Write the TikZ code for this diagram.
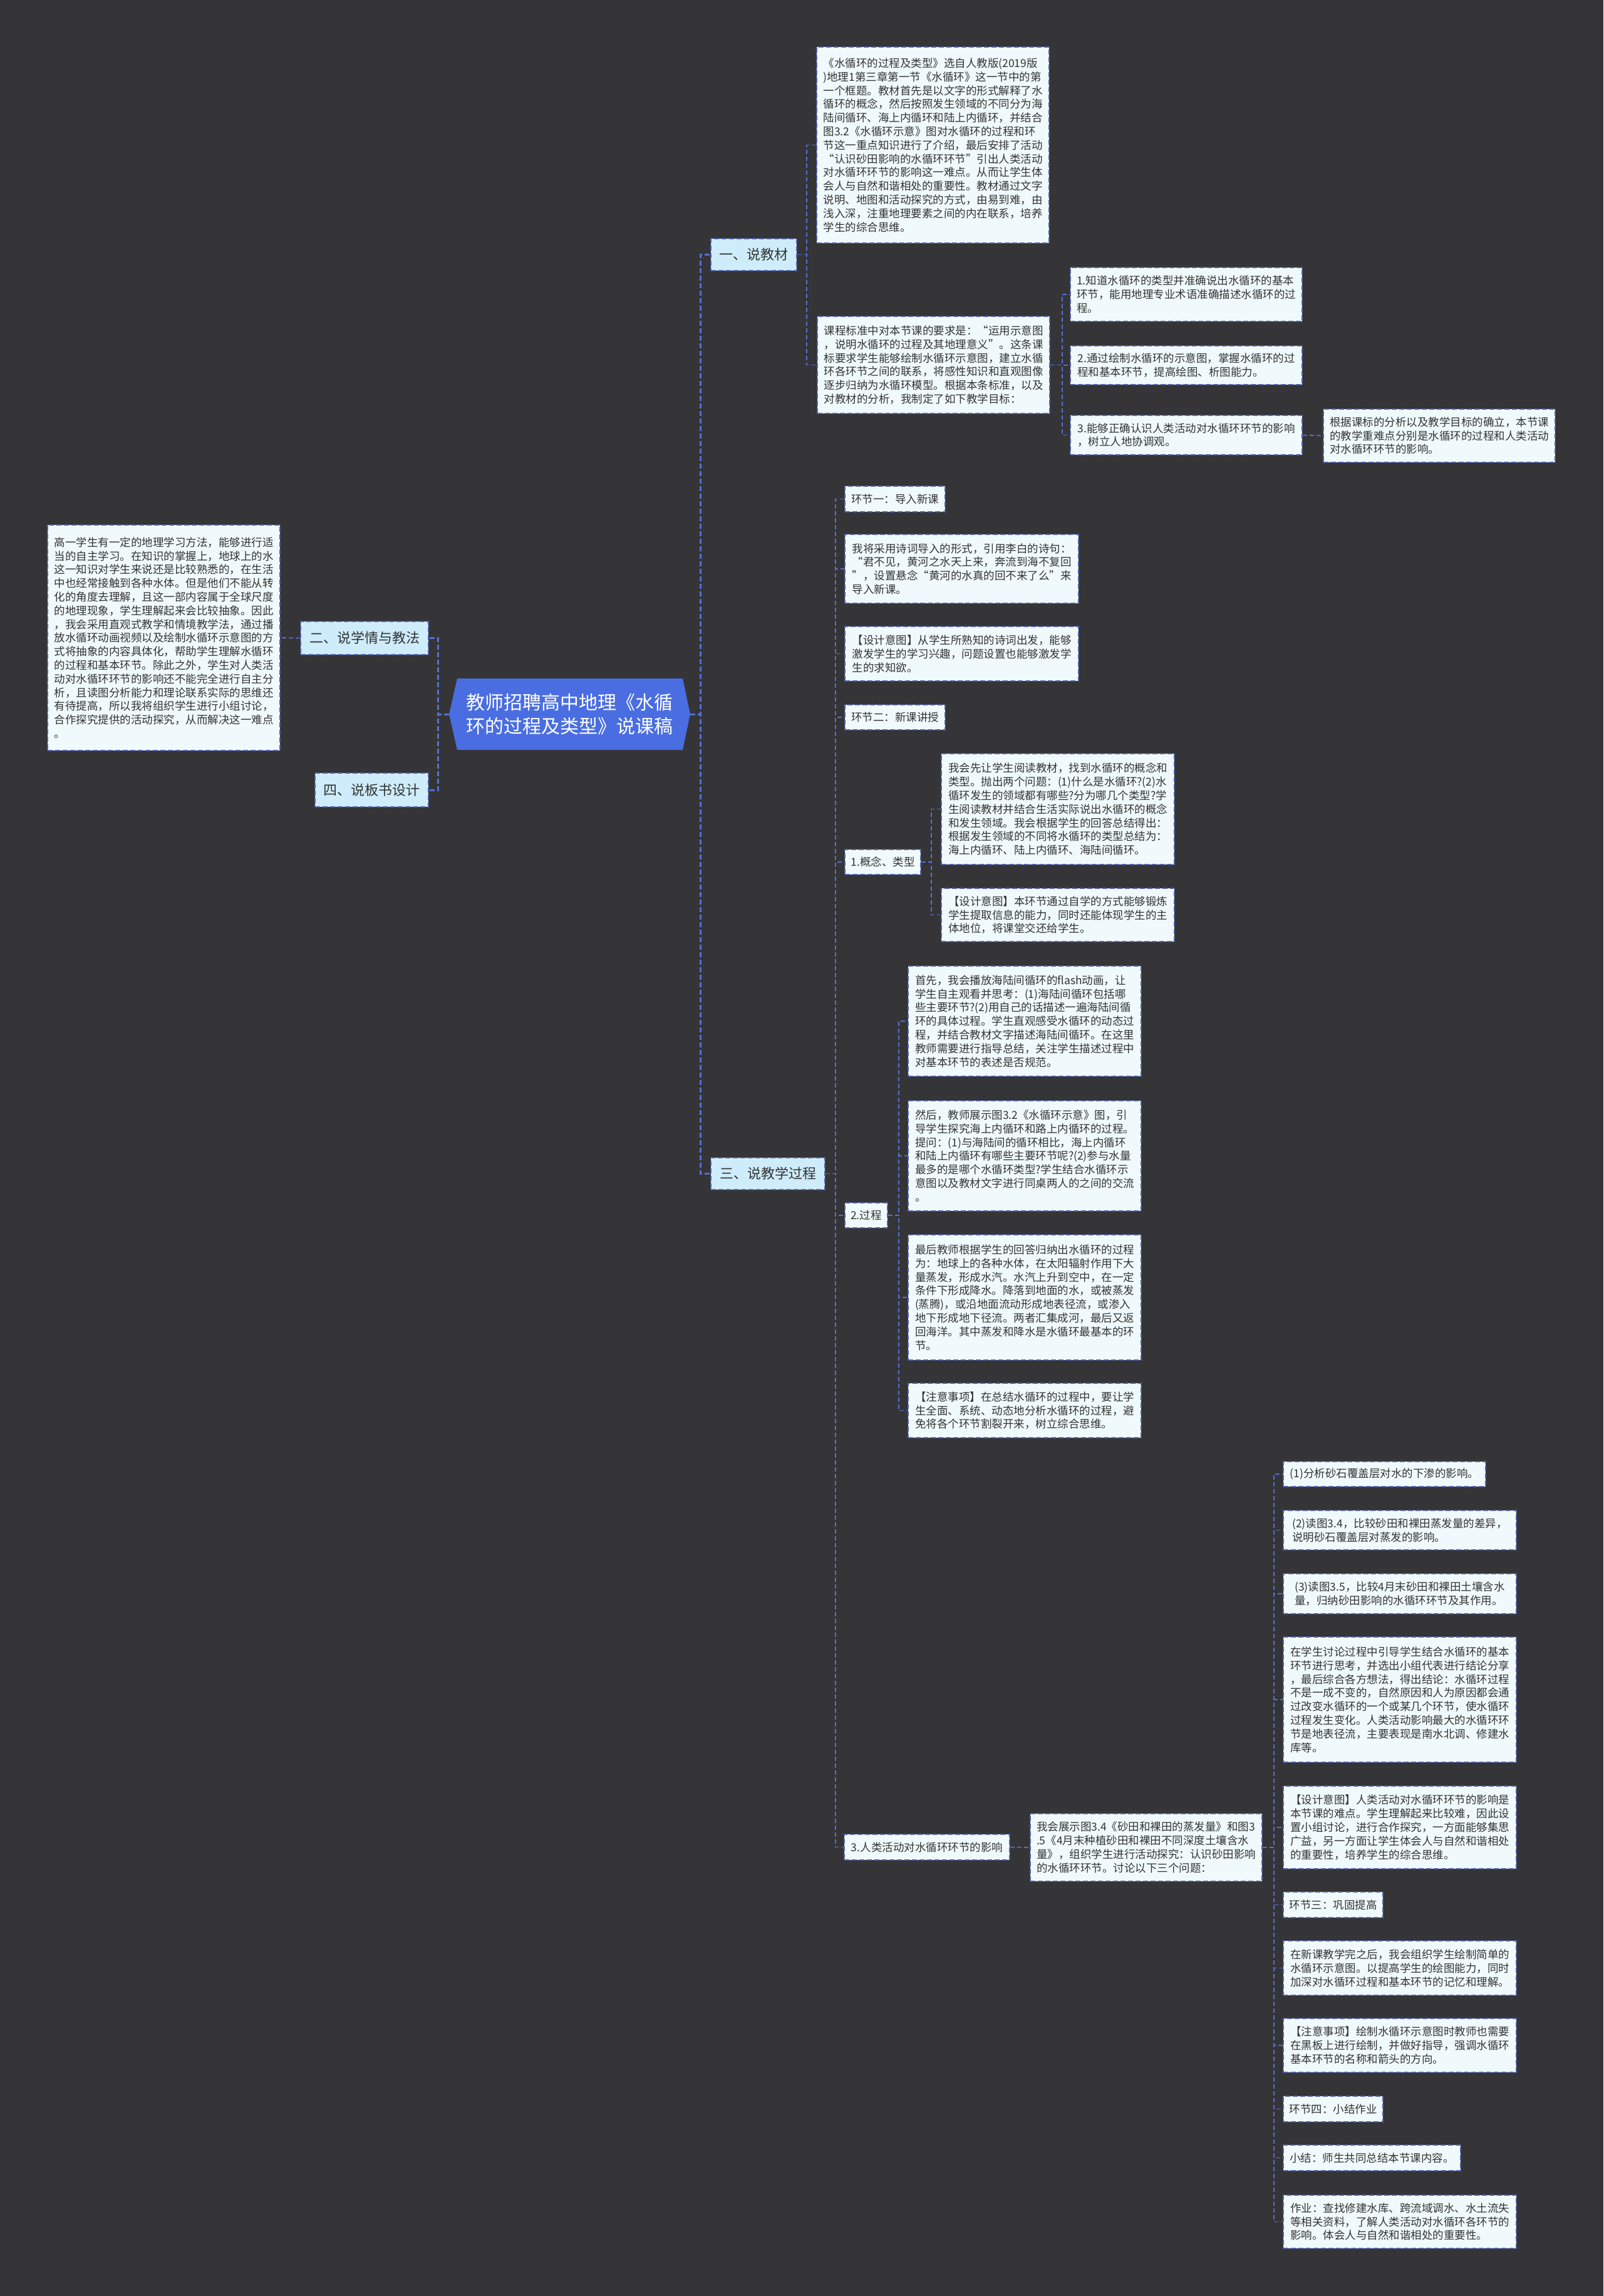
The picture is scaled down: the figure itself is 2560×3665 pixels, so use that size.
\documentclass[tikz,border=0pt]{standalone}
\usepackage{fontspec}
\setmainfont{Noto Sans CJK SC}
\usetikzlibrary{positioning}
\definecolor{bgdark}{RGB}{53,52,55}
\definecolor{titleblue}{RGB}{74,110,225}
\definecolor{lvlfill}{RGB}{206,236,250}
\definecolor{leaffill}{RGB}{240,250,252}
\definecolor{edgeblue}{RGB}{84,112,210}
\definecolor{boxline}{RGB}{82,98,170}
\definecolor{inktext}{RGB}{51,51,51}

\begin{document}
\begin{tikzpicture}[x=1pt, y=-1pt,
    topic/.style={rectangle, text=white, align=center, inner sep=0pt, font=\fontsize{30}{38}\selectfont},
    branch/.style={rectangle, draw=boxline, line width=1.8pt, dash pattern=on 8pt off 4pt, fill=lvlfill, text=inktext, inner sep=0pt, font=\fontsize{22}{26}\selectfont},
    leaf/.style={rectangle, draw=boxline, line width=1.8pt, dash pattern=on 8pt off 4pt, fill=leaffill, text=inktext, align=left, inner sep=0pt, font=\fontsize{17.5}{21.8}\selectfont},
    trunk/.style={draw=edgeblue, line width=3pt, dash pattern=on 8pt off 4pt},
    link/.style={draw=edgeblue, line width=1.8pt, dash pattern=on 7pt off 4pt}]

\useasboundingbox (0,0) rectangle (2560,3665);
\fill[bgdark] (0,0) rectangle (2560,3665);

% centre
\fill[titleblue] (717,1140) -- (730,1083) -- (1090,1083) -- (1102,1140) -- (1090,1197) -- (730,1197) -- cycle;
\node[topic, minimum width=385pt, minimum height=114pt] (title) at (909.5,1140) {教师招聘高中地理《水循\\环的过程及类型》说课稿};

% left side
\node[branch, minimum width=204pt, minimum height=53pt] (k2) at (582,1018.5) {二、说学情与教法};
\node[branch, minimum width=181pt, minimum height=54pt] (k4) at (593.5,1261) {四、说板书设计};
\node[leaf, minimum width=371pt, minimum height=360pt] (lt) at (261.5,1018) {高一学生有一定的地理学习方法，能够进行适\\当的自主学习。在知识的掌握上，地球上的水\\这一知识对学生来说还是比较熟悉的，在生活\\中也经常接触到各种水体。但是他们不能从转\\化的角度去理解，且这一部内容属于全球尺度\\的地理现象，学生理解起来会比较抽象。因此\\，我会采用直观式教学和情境教学法，通过播\\放水循环动画视频以及绘制水循环示意图的方\\式将抽象的内容具体化，帮助学生理解水循环\\的过程和基本环节。除此之外，学生对人类活\\动对水循环环节的影响还不能完全进行自主分\\析，且读图分析能力和理论联系实际的思维还\\有待提高，所以我将组织学生进行小组讨论，\\合作探究提供的活动探究，从而解决这一难点\\。};

% 一、说教材
\node[branch, minimum width=137pt, minimum height=51pt] (k1) at (1203.5,406.5) {一、说教材};
\node[leaf, minimum width=371pt, minimum height=313pt] (tb) at (1489.5,231.5) {《水循环的过程及类型》选自人教版(2019版\\)地理1第三章第一节《水循环》这一节中的第\\一个框题。教材首先是以文字的形式解释了水\\循环的概念，然后按照发生领域的不同分为海\\陆间循环、海上内循环和陆上内循环，并结合\\图3.2《水循环示意》图对水循环的过程和环\\节这一重点知识进行了介绍，最后安排了活动\\“认识砂田影响的水循环环节”引出人类活动\\对水循环环节的影响这一难点。从而让学生体\\会人与自然和谐相处的重要性。教材通过文字\\说明、地图和活动探究的方式，由易到难，由\\浅入深，注重地理要素之间的内在联系，培养\\学生的综合思维。};
\node[leaf, minimum width=371pt, minimum height=155pt] (std) at (1490.5,582.5) {课程标准中对本节课的要求是：“运用示意图\\，说明水循环的过程及其地理意义”。这条课\\标要求学生能够绘制水循环示意图，建立水循\\环各环节之间的联系，将感性知识和直观图像\\逐步归纳为水循环模型。根据本条标准，以及\\对教材的分析，我制定了如下教学目标：};
\node[leaf, minimum width=370pt, minimum height=86pt] (g1) at (1894,470) {1.知道水循环的类型并准确说出水循环的基本\\环节，能用地理专业术语准确描述水循环的过\\程。};
\node[leaf, minimum width=370pt, minimum height=62pt] (g2) at (1894,583) {2.通过绘制水循环的示意图，掌握水循环的过\\程和基本环节，提高绘图、析图能力。};
\node[leaf, minimum width=370pt, minimum height=63pt] (g3) at (1894,694.5) {3.能够正确认识人类活动对水循环环节的影响\\，树立人地协调观。};
\node[leaf, minimum width=370pt, minimum height=85pt] (key) at (2298,695.5) {根据课标的分析以及教学目标的确立，本节课\\的教学重难点分别是水循环的过程和人类活动\\对水循环环节的影响。};

% 三、说教学过程
\node[branch, minimum width=182pt, minimum height=51pt] (k3) at (1226,1873.5) {三、说教学过程};
\node[leaf, minimum width=160pt, minimum height=41pt] (s1) at (1429,796.5) {环节一：导入新课};
\node[leaf, minimum width=373pt, minimum height=110pt] (s1a) at (1535.5,908) {我将采用诗词导入的形式，引用李白的诗句：\\“君不见，黄河之水天上来，奔流到海不复回\\”，设置悬念“黄河的水真的回不来了么”来\\导入新课。};
\node[leaf, minimum width=373pt, minimum height=87pt] (s1b) at (1535.5,1043.5) {【设计意图】从学生所熟知的诗词出发，能够\\激发学生的学习兴趣，问题设置也能够激发学\\生的求知欲。};
\node[leaf, minimum width=160pt, minimum height=40pt] (s2) at (1429,1145) {环节二：新课讲授};
\node[leaf, minimum width=121pt, minimum height=40pt] (c1) at (1409.5,1376) {1.概念、类型};
\node[leaf, minimum width=372pt, minimum height=177pt] (c1a) at (1689,1291.5) {我会先让学生阅读教材，找到水循环的概念和\\类型。抛出两个问题：(1)什么是水循环?(2)水\\循环发生的领域都有哪些?分为哪几个类型?学\\生阅读教材并结合生活实际说出水循环的概念\\和发生领域。我会根据学生的回答总结得出：\\根据发生领域的不同将水循环的类型总结为：\\海上内循环、陆上内循环、海陆间循环。};
\node[leaf, minimum width=372pt, minimum height=85pt] (c1b) at (1689,1460.5) {【设计意图】本环节通过自学的方式能够锻炼\\学生提取信息的能力，同时还能体现学生的主\\体地位，将课堂交还给学生。};
\node[leaf, minimum width=68pt, minimum height=40pt] (c2) at (1383,1940) {2.过程};
\node[leaf, minimum width=372pt, minimum height=176pt] (p1) at (1636,1630) {首先，我会播放海陆间循环的flash动画，让\\学生自主观看并思考：(1)海陆间循环包括哪\\些主要环节?(2)用自己的话描述一遍海陆间循\\环的具体过程。学生直观感受水循环的动态过\\程，并结合教材文字描述海陆间循环。在这里\\教师需要进行指导总结，关注学生描述过程中\\对基本环节的表述是否规范。};
\node[leaf, minimum width=372pt, minimum height=176pt] (p2) at (1636,1845) {然后，教师展示图3.2《水循环示意》图，引\\导学生探究海上内循环和路上内循环的过程。\\提问：(1)与海陆间的循环相比，海上内循环\\和陆上内循环有哪些主要环节呢?(2)参与水量\\最多的是哪个水循环类型?学生结合水循环示\\意图以及教材文字进行同桌两人的之间的交流\\。};
\node[leaf, minimum width=372pt, minimum height=200pt] (p3) at (1636,2071) {最后教师根据学生的回答归纳出水循环的过程\\为：地球上的各种水体，在太阳辐射作用下大\\量蒸发，形成水汽。水汽上升到空中，在一定\\条件下形成降水。降落到地面的水，或被蒸发\\(蒸腾)，或沿地面流动形成地表径流，或渗入\\地下形成地下径流。两者汇集成河，最后又返\\回海洋。其中蒸发和降水是水循环最基本的环\\节。};
\node[leaf, minimum width=372pt, minimum height=87pt] (p4) at (1636,2251.5) {【注意事项】在总结水循环的过程中，要让学\\生全面、系统、动态地分析水循环的过程，避\\免将各个环节割裂开来，树立综合思维。};
\node[leaf, minimum width=264pt, minimum height=41pt] (c3) at (1480,2948.5) {3.人类活动对水循环环节的影响};
\node[leaf, minimum width=370pt, minimum height=108pt] (c3a) at (1830,2949) {我会展示图3.4《砂田和裸田的蒸发量》和图3\\.5《4月末种植砂田和裸田不同深度土壤含水\\量》，组织学生进行活动探究：认识砂田影响\\的水循环环节。讨论以下三个问题：};
\node[leaf, minimum width=323pt, minimum height=40pt] (q1) at (2210.5,2353) {(1)分析砂石覆盖层对水的下渗的影响。};
\node[leaf, minimum width=372pt, minimum height=63pt] (q2) at (2235,2442.5) {(2)读图3.4，比较砂田和裸田蒸发量的差异，\\说明砂石覆盖层对蒸发的影响。};
\node[leaf, minimum width=372pt, minimum height=64pt] (q3) at (2235,2544) {(3)读图3.5，比较4月末砂田和裸田土壤含水\\量，归纳砂田影响的水循环环节及其作用。};
\node[leaf, minimum width=372pt, minimum height=200pt] (q4) at (2235,2713) {在学生讨论过程中引导学生结合水循环的基本\\环节进行思考，并选出小组代表进行结论分享\\，最后综合各方想法，得出结论：水循环过程\\不是一成不变的，自然原因和人为原因都会通\\过改变水循环的一个或某几个环节，使水循环\\过程发生变化。人类活动影响最大的水循环环\\节是地表径流，主要表现是南水北调、修建水\\库等。};
\node[leaf, minimum width=372pt, minimum height=132pt] (q5) at (2235,2917) {【设计意图】人类活动对水循环环节的影响是\\本节课的难点。学生理解起来比较难，因此设\\置小组讨论，进行合作探究，一方面能够集思\\广益，另一方面让学生体会人与自然和谐相处\\的重要性，培养学生的综合思维。};
\node[leaf, minimum width=159pt, minimum height=41pt] (s3) at (2128.5,3040.5) {环节三：巩固提高};
\node[leaf, minimum width=372pt, minimum height=87pt] (q6) at (2235,3141.5) {在新课教学完之后，我会组织学生绘制简单的\\水循环示意图。以提高学生的绘图能力，同时\\加深对水循环过程和基本环节的记忆和理解。};
\node[leaf, minimum width=372pt, minimum height=86pt] (q7) at (2235,3265) {【注意事项】绘制水循环示意图时教师也需要\\在黑板上进行绘制，并做好指导，强调水循环\\基本环节的名称和箭头的方向。};
\node[leaf, minimum width=159pt, minimum height=41pt] (s4) at (2128.5,3366.5) {环节四：小结作业};
\node[leaf, minimum width=283pt, minimum height=41pt] (q8) at (2190.5,3444.5) {小结：师生共同总结本节课内容。};
\node[leaf, minimum width=372pt, minimum height=85pt] (q9) at (2235,3546.5) {作业：查找修建水库、跨流域调水、水土流失\\等相关资料，了解人类活动对水循环各环节的\\影响。体会人与自然和谐相处的重要性。};

% connectors
\foreach \n in {k2,k4} \draw[trunk] (title.west) -- ++(-17,0) |- (\n.east);
\foreach \n in {k1,k3} \draw[trunk] (title.east) -- ++(16,0) |- (\n.west);
\draw[link] (k2.west) -- (lt.east);
\foreach \n in {tb,std} \draw[link] (k1.east) -- ++(15,0) |- (\n.west);
\foreach \n in {g1,g2,g3} \draw[link] (std.east) -- ++(19,0) |- (\n.west);
\draw[link] (g3.east) -- (key.west);
\foreach \n in {s1,s1a,s1b,s2,c1,c2,c3} \draw[link] (k3.east) -- ++(16,0) |- (\n.west);
\foreach \n in {c1a,c1b} \draw[link] (c1.east) -- ++(16,0) |- (\n.west);
\foreach \n in {p1,p2,p3,p4} \draw[link] (c2.east) -- ++(17,0) |- (\n.west);
\draw[link] (c3.east) -- (c3a.west);
\foreach \n in {q1,q2,q3,q4,q5,s3,q6,q7,s4,q8,q9} \draw[link] (c3a.east) -- ++(18,0) |- (\n.west);

\end{tikzpicture}
\end{document}
